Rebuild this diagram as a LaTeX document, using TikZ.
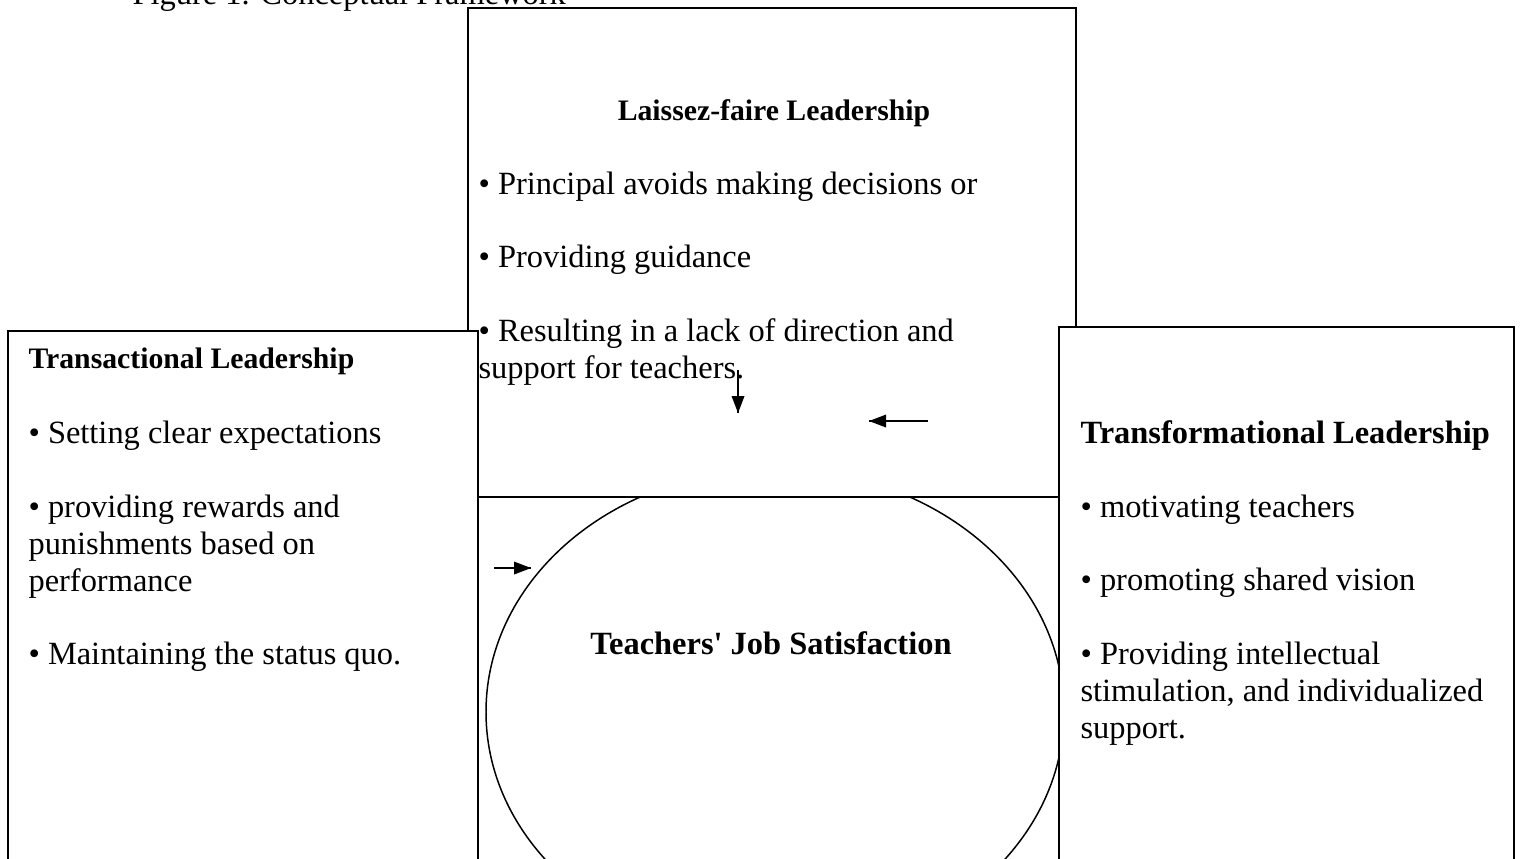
\documentclass[tikz,border=0pt]{standalone}
\usepackage{fontspec}
\setmainfont{Liberation Serif}

\begin{document}
\begin{tikzpicture}[scale=0.13]
	\tikzstyle{every node}+=[inner sep=0pt]
	\tikzstyle{txt}=[anchor=base west, font=\fontsize{12}{13.6}\selectfont]
	\tikzstyle{ttl}=[font=\bfseries\fontsize{11}{13}\selectfont]
	\tikzstyle{bigttl}=[font=\bfseries\fontsize{12}{13.6}\selectfont]
	\tikzstyle{boxline}=[black, line width=0.85pt, fill=white]
	\tikzstyle{rim}=[black, line width=0.55pt]
	\tikzstyle{shaft}=[black, line width=0.7pt]
	\useasboundingbox (0,0) rectangle (152,-85.8);
	\draw (13.2,-0.45) node [txt] (fig) {Figure 1. Conceptual Framework};
	% ellipse goes first, the boxes cover its top and right side
	\draw [rim] (77.5,-71.2) ellipse (28.9 and 24.3);
	\draw [boxline] (46.8,-0.8) rectangle (107.6,-49.7);
	\draw [boxline] (0.8,-33.1) rectangle (47.8,-87);
	\draw [boxline] (105.9,-32.7) rectangle (151.4,-87);
	% laissez-faire
	\draw (77.4,-12.0) node [txt, ttl, anchor=base] (lf) {Laissez-faire Leadership};
	\draw (47.8,-19.4) node [txt] (lf1) {\textbullet{} Principal avoids making decisions or};
	\draw (47.8,-26.7) node [txt] (lf2) {\textbullet{} Providing guidance};
	\draw (47.8,-34.1) node [txt] (lf3) {\textbullet{} Resulting in a lack of direction and};
	\draw (47.8,-37.8) node [txt] (lf3b) {support for teachers.};
	% transactional
	\draw (2.8,-36.8) node [txt, ttl] (ta) {Transactional Leadership};
	\draw (2.8,-44.3) node [txt] (ta1) {\textbullet{} Setting clear expectations};
	\draw (2.8,-51.7) node [txt] (ta2) {\textbullet{} providing rewards and};
	\draw (2.8,-55.4) node [txt] (ta2b) {punishments based on};
	\draw (2.8,-59.1) node [txt] (ta2c) {performance};
	\draw (2.8,-66.4) node [txt] (ta3) {\textbullet{} Maintaining the status quo.};
	% transformational
	\draw (108.0,-44.3) node [txt, bigttl] (tf) {Transformational Leadership};
	\draw (108.0,-51.7) node [txt] (tf1) {\textbullet{} motivating teachers};
	\draw (108.0,-59.0) node [txt] (tf2) {\textbullet{} promoting shared vision};
	\draw (108.0,-66.4) node [txt] (tf3) {\textbullet{} Providing intellectual};
	\draw (108.0,-70.1) node [txt] (tf3b) {stimulation, and individualized};
	\draw (108.0,-73.8) node [txt] (tf3c) {support.};
	% job satisfaction
	\draw (77.1,-65.4) node [txt, bigttl, anchor=base] (js) {Teachers\textquotesingle{} Job Satisfaction};
	% arrows
	\coordinate (d1) at (73.8,-37.0);
	\coordinate (d2) at (73.8,-41.3);
	\draw [shaft] (d1) -- (d2);
	\fill [black] (d2) -- ++(-0.65,1.7) -- ++(1.3,0) -- cycle;
	\coordinate (l1) at (92.8,-42.1);
	\coordinate (l2) at (86.9,-42.1);
	\draw [shaft] (l1) -- (l2);
	\fill [black] (l2) -- ++(1.7,0.65) -- ++(0,-1.3) -- cycle;
	\coordinate (r1) at (49.4,-56.8);
	\coordinate (r2) at (53.1,-56.8);
	\draw [shaft] (r1) -- (r2);
	\fill [black] (r2) -- ++(-1.7,0.65) -- ++(0,-1.3) -- cycle;
\end{tikzpicture}
\end{document}
